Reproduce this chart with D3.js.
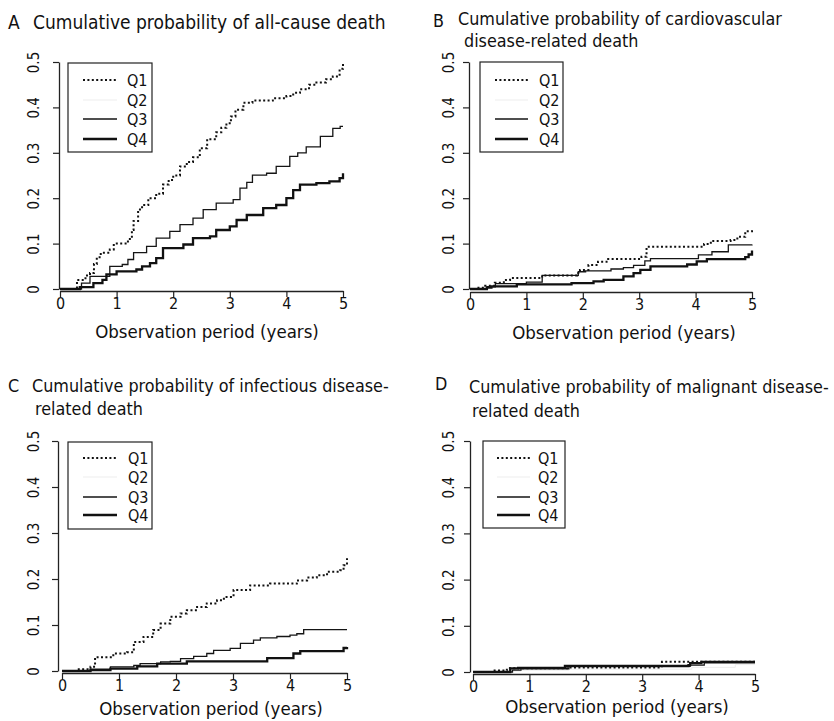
<!DOCTYPE html>
<html><head><meta charset="utf-8">
<script src="https://cdn.jsdelivr.net/npm/d3@7"></script>
<style>
body{margin:0;background:#fff;}
svg text{font-family:"DejaVu Sans Condensed","DejaVu Sans",sans-serif;fill:#111;}
</style></head>
<body><svg id="c" width="834" height="721"></svg>
<script>
// ---------- data ----------
const seriesNames = ["Q1","Q2","Q3","Q4"];
const xTicks = [0,1,2,3,4,5];
const yTicks = [0,0.1,0.2,0.3,0.4,0.5];
const yTickLabels = ["0","0.1","0.2","0.3","0.4","0.5"];
const xAxisTitle = "Observation period (years)";

const panelLetters = ["A","B","C","D"];
const panelTitles = [
  ["Cumulative probability of all-cause death"],
  ["Cumulative probability of cardiovascular","disease-related death"],
  ["Cumulative probability of infectious disease-","related death"],
  ["Cumulative probability of malignant disease-","related death"]
];

// [years, cumulative probability] step points
const allCauseQ1 = [[0,0],[0.3,0.02],[0.45,0.03],[0.53,0.035],[0.6,0.055],[0.65,0.07],[0.72,0.08],[0.88,0.087],[0.95,0.1],[1.2,0.11],[1.27,0.13],[1.3,0.15],[1.38,0.175],[1.45,0.185],[1.56,0.2],[1.7,0.21],[1.82,0.23],[1.92,0.24],[2.0,0.25],[2.12,0.27],[2.24,0.28],[2.35,0.29],[2.47,0.31],[2.6,0.33],[2.76,0.345],[2.85,0.355],[2.94,0.365],[3.02,0.38],[3.1,0.395],[3.24,0.41],[3.4,0.415],[3.76,0.42],[4.0,0.425],[4.12,0.432],[4.24,0.44],[4.4,0.45],[4.53,0.455],[4.7,0.462],[4.82,0.468],[4.94,0.485],[5.0,0.497]];
const allCauseQ2 = [];
const allCauseQ3 = [[0,0],[0.38,0.013],[0.53,0.028],[0.88,0.05],[1.1,0.054],[1.2,0.065],[1.3,0.08],[1.53,0.094],[1.7,0.112],[1.94,0.127],[2.12,0.142],[2.35,0.156],[2.53,0.175],[2.76,0.189],[3.06,0.197],[3.18,0.222],[3.3,0.235],[3.4,0.251],[3.65,0.255],[3.82,0.27],[4.06,0.292],[4.2,0.3],[4.35,0.313],[4.6,0.336],[4.82,0.354],[4.95,0.358],[5.0,0.358]];
const allCauseQ4 = [[0,0],[0.35,0.004],[0.59,0.013],[0.75,0.02],[0.82,0.032],[1.0,0.039],[1.35,0.043],[1.45,0.05],[1.59,0.057],[1.7,0.068],[1.82,0.09],[2.18,0.098],[2.35,0.112],[2.65,0.116],[2.76,0.13],[3.0,0.138],[3.12,0.152],[3.3,0.163],[3.59,0.178],[3.82,0.185],[4.0,0.2],[4.12,0.218],[4.24,0.23],[4.53,0.233],[4.76,0.237],[4.94,0.244],[5.0,0.255]];

const cardioQ1 = [[0,0],[0.15,0.003],[0.27,0.007],[0.44,0.014],[0.6,0.02],[0.71,0.024],[1.28,0.03],[1.9,0.035],[1.95,0.042],[2.1,0.053],[2.27,0.06],[2.45,0.066],[2.86,0.066],[3.04,0.071],[3.13,0.093],[4.05,0.093],[4.15,0.099],[4.27,0.106],[4.62,0.108],[4.74,0.115],[4.88,0.127],[5.0,0.13]];
const cardioQ2 = [];
const cardioQ3 = [[0,0],[0.3,0.005],[0.45,0.012],[1.0,0.015],[1.28,0.03],[1.92,0.038],[2.05,0.04],[2.5,0.044],[2.72,0.047],[2.9,0.052],[3.1,0.062],[3.2,0.067],[4.05,0.075],[4.29,0.082],[4.58,0.097],[5.0,0.098]];
const cardioQ4 = [[0,0],[0.3,0.003],[0.38,0.006],[0.83,0.01],[1.8,0.013],[2.19,0.017],[2.37,0.02],[2.72,0.028],[2.9,0.035],[3.02,0.042],[3.2,0.05],[3.85,0.054],[4.02,0.061],[4.2,0.066],[4.88,0.07],[4.94,0.076],[5.0,0.085]];

const infectQ1 = [[0,0],[0.25,0.004],[0.5,0.009],[0.58,0.03],[0.9,0.038],[1.14,0.041],[1.26,0.063],[1.43,0.074],[1.6,0.089],[1.73,0.103],[1.9,0.118],[2.08,0.125],[2.19,0.132],[2.37,0.139],[2.54,0.147],[2.72,0.154],[2.84,0.161],[3.01,0.176],[3.3,0.186],[3.65,0.19],[4.12,0.197],[4.3,0.203],[4.47,0.208],[4.65,0.216],[4.88,0.219],[4.94,0.23],[5.0,0.245]];
const infectQ2 = [];
const infectQ3 = [[0,0],[0.5,0.004],[0.85,0.009],[1.26,0.012],[1.37,0.016],[1.73,0.02],[1.9,0.021],[2.08,0.027],[2.31,0.032],[2.54,0.038],[2.66,0.045],[2.95,0.049],[3.13,0.06],[3.36,0.067],[3.48,0.072],[3.77,0.075],[4.0,0.078],[4.12,0.081],[4.24,0.09],[5.0,0.09]];
const infectQ4 = [[0,0],[0.5,0.002],[0.85,0.005],[1.32,0.01],[1.67,0.016],[2.19,0.021],[3.6,0.028],[4.06,0.038],[4.18,0.043],[4.94,0.05],[5.0,0.052]];

const malignQ1 = [[0,0],[0.35,0.003],[0.6,0.008],[1.7,0.01],[3.35,0.022],[3.88,0.022],[5.0,0.022]];
const malignQ2 = [[0,0],[0.5,0.002],[0.85,0.004],[1.7,0.006],[3.88,0.01],[4.65,0.016],[5.0,0.016]];
const malignQ3 = [[0,0],[0.7,0.004],[0.85,0.007],[1.7,0.012],[3.85,0.015],[4.1,0.02],[5.0,0.02]];
const malignQ4 = [[0,0],[0.66,0.008],[0.8,0.009],[1.63,0.013],[3.82,0.015],[3.85,0.019],[4.05,0.022],[5.0,0.022]];

const panelSeries = [
  [allCauseQ1, allCauseQ2, allCauseQ3, allCauseQ4],
  [cardioQ1, cardioQ2, cardioQ3, cardioQ4],
  [infectQ1, infectQ2, infectQ3, infectQ4],
  [malignQ1, malignQ2, malignQ3, malignQ4]
];

// ---------- layout / style ----------
const layouts = [
  {x0:60, x1:343, y0:289, y1:62, yAxisX:59, xAxisY:291, yLabX:33, titleSize:19, letter:[8,29], title:[[33,29]], legend:[68,63,152,152], legY:[80,100,119,139], legLine:[83,117], legText:127, xTitleY:338, xTitleX:207},
  {x0:470, x1:752, y0:289, y1:62, yAxisX:469, xAxisY:292, yLabX:448, titleSize:17.8, letter:[433,27], title:[[458,25],[464,47]], legend:[480,62,563,152], legY:[80,100,119,139], legLine:[495,528], legText:539, xTitleY:339, xTitleX:624},
  {x0:62, x1:347, y0:671, y1:441, yAxisX:58, xAxisY:673, yLabX:33, titleSize:17.8, letter:[8,392], title:[[32,392],[35,415]], legend:[68,442,152,529], legY:[458,477,497,515], legLine:[83,117], legText:128, xTitleY:715, xTitleX:211},
  {x0:473, x1:755, y0:672, y1:441, yAxisX:470, xAxisY:674, yLabX:448, titleSize:17.8, letter:[435,390], title:[[469,393],[472,417]], legend:[483,441,565,528], legY:[458,477,497,515], legLine:[497,530], legText:538, xTitleY:713, xTitleX:617}
];
const styles = [
  {stroke:"#111", width:2, dash:"2,2.4"},
  {stroke:"#ededed", width:1, dash:null},
  {stroke:"#151515", width:1.3, dash:null},
  {stroke:"#111", width:2.3, dash:null}
];
const fontStack = '"DejaVu Sans Condensed","DejaVu Sans",sans-serif';

const svg = d3.select("#c");

panelSeries.forEach((series, pi) => {
  const L = layouts[pi];
  const g = svg.append("g");
  const x = d3.scaleLinear().domain([0,5]).range([L.x0, L.x1]);
  const y = d3.scaleLinear().domain([0,0.5]).range([L.y0, L.y1]);

  // title
  g.append("text").attr("x", L.letter[0]).attr("y", L.letter[1])
    .attr("font-size", L.titleSize).text(panelLetters[pi]);
  panelTitles[pi].forEach((t, li) => {
    g.append("text").attr("x", L.title[li][0]).attr("y", L.title[li][1])
      .attr("font-size", L.titleSize).text(t);
  });

  // y axis
  const ya = g.append("g").attr("transform", `translate(${L.yAxisX},0)`)
    .call(d3.axisLeft(y).tickValues(yTicks).tickFormat((d,i)=>yTickLabels[i]).tickSize(6).tickSizeOuter(0));
  ya.select(".domain").attr("stroke","#222").attr("stroke-width",1.3);
  ya.selectAll(".tick line").attr("stroke","#222").attr("stroke-width",1.2);
  ya.selectAll(".tick text").attr("transform","rotate(-90)")
    .attr("x",0).attr("y", -(L.yAxisX - L.yLabX - 6)).attr("dy",0)
    .attr("text-anchor","middle").attr("font-size",15).attr("fill","#111")
    .style("font-family", fontStack);

  // x axis
  const xa = g.append("g").attr("transform", `translate(0,${L.xAxisY})`)
    .call(d3.axisBottom(x).tickValues(xTicks).tickFormat(d3.format("d")).tickSize(6).tickSizeOuter(0));
  xa.select(".domain").attr("stroke","#222").attr("stroke-width",1.3);
  xa.selectAll(".tick line").attr("stroke","#222").attr("stroke-width",1.2);
  xa.selectAll(".tick text").attr("font-size",16).attr("fill","#111").attr("y",7)
    .style("font-family", fontStack);

  g.append("text").attr("x", L.xTitleX).attr("y", L.xTitleY).attr("text-anchor","middle")
    .attr("font-size",18.5).text(xAxisTitle);

  // curves
  const line = d3.line().x(d=>x(d[0])).y(d=>y(d[1])).curve(d3.curveStepAfter);
  [1,2,3,0].forEach(si => {
    const data = series[si];
    if (!data.length) return;
    const s = styles[si];
    g.append("path").datum(data).attr("d", line).attr("fill","none")
      .attr("stroke", s.stroke).attr("stroke-width", s.width)
      .attr("stroke-dasharray", s.dash);
  });

  // legend
  const [lx0, ly0, lx1, ly1] = L.legend;
  g.append("rect").attr("x",lx0).attr("y",ly0).attr("width",lx1-lx0).attr("height",ly1-ly0)
    .attr("fill","#fff").attr("stroke","#222").attr("stroke-width",1.2);
  seriesNames.forEach((n, si) => {
    const s = styles[si];
    g.append("line").attr("x1",L.legLine[0]).attr("x2",L.legLine[1])
      .attr("y1",L.legY[si]).attr("y2",L.legY[si])
      .attr("stroke",s.stroke).attr("stroke-width",s.width).attr("stroke-dasharray",s.dash);
    g.append("text").attr("x",L.legText).attr("y",L.legY[si]).attr("dy","0.36em")
      .attr("font-size",16).text(n);
  });
});
</script></body></html>
